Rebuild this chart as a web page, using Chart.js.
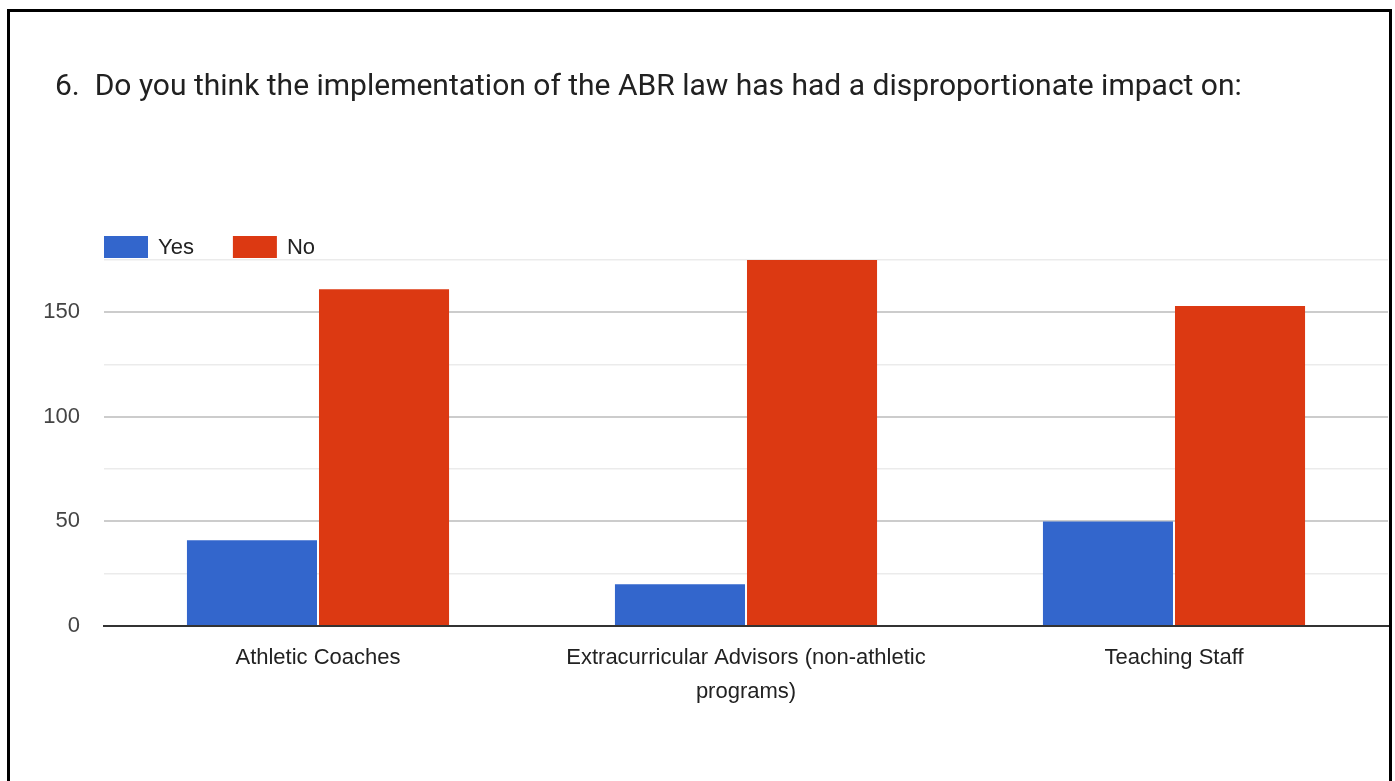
<!DOCTYPE html>
<html>
<head>
<meta charset="utf-8">
<title>ABR law impact</title>
<script src="https://cdn.jsdelivr.net/npm/chart.js@4.4.1/dist/chart.umd.min.js"></script>
<style>
  html, body { margin: 0; padding: 0; background: #fff; }
  #wrap { position: relative; width: 1395px; height: 781px; overflow: hidden; }
  #chart-box { position: absolute; left: 0; top: 0; width: 1395px; height: 781px; }
  #frame { position: absolute; left: 7px; top: 9px; width: 1379px; height: 800px; border: 3px solid #000; pointer-events: none; }
  #title { position: absolute; left: 55px; top: 70px; margin: 0; font: 400 30px/1 Roboto, sans-serif; color: #212121; white-space: pre; }
</style>
</head>
<body>
<div id="wrap">
  <div id="chart-box"><canvas id="chart"></canvas></div>
  <h1 id="title"></h1>
  <div id="frame"></div>
</div>
<script>
// survey question 6 — counts
const titleText = '6.  Do you think the implementation of the ABR law has had a disproportionate impact on:';
const categories = ['Athletic Coaches', ['Extracurricular Advisors (non-athletic', 'programs)'], 'Teaching Staff'];
const yesCounts = [41, 20, 50];
const noCounts = [161, 175, 153];
const labeledTicks = [0, 50, 100, 150];

const BLUE = '#3366cc';
const RED = '#dc3912';

document.getElementById('title').textContent = titleText;
Chart.defaults.font.family = '"Liberation Sans", Arial, sans-serif';

// legend sits flush with the plot's left edge, just above the top gridline
const topLegend = {
  id: 'topLegend',
  afterDraw(chart) {
    const { ctx, chartArea } = chart;
    ctx.save();
    ctx.font = '22px "Liberation Sans", Arial, sans-serif';
    ctx.textBaseline = 'middle';
    let x = chartArea.left;
    const y = chartArea.top - 24;
    chart.data.datasets.forEach(ds => {
      ctx.fillStyle = ds.backgroundColor;
      ctx.fillRect(x, y, 44, 22);
      ctx.fillStyle = '#222';
      ctx.fillText(ds.label, x + 54, y + 12);
      x += 54 + ctx.measureText(ds.label).width + 39;
    });
    ctx.restore();
  }
};

new Chart(document.getElementById('chart'), {
  type: 'bar',
  data: {
    labels: categories,
    datasets: [
      { label: 'Yes', data: yesCounts, backgroundColor: BLUE },
      { label: 'No', data: noCounts, backgroundColor: RED }
    ]
  },
  options: {
    responsive: true,
    maintainAspectRatio: false,
    animation: false,
    layout: { padding: { left: 42, right: 7, top: 260, bottom: 55 } },
    datasets: { bar: { categoryPercentage: 0.617, barPercentage: 0.985 } },
    plugins: {
      legend: { display: false },
      tooltip: { enabled: false },
      title: { display: false }
    },
    scales: {
      x: {
        grid: { display: false, drawTicks: false },
        border: { display: true, color: '#333', width: 2 },
        ticks: { color: '#222', font: { size: 22, lineHeight: 1.55 }, padding: 15, maxRotation: 0, autoSkip: false },
        afterFit: s => { s.height = 100; }
      },
      y: {
        min: 0,
        max: 175,
        border: { display: false },
        grid: {
          drawTicks: false,
          color: c => c.tick.value === 0 ? '#333' : (c.tick.value % 50 === 0 ? '#cccccc' : '#ebebeb'),
          lineWidth: c => c.tick.value % 50 === 0 ? 2 : 1.5
        },
        ticks: {
          stepSize: 25,
          padding: 24,
          color: '#444',
          font: { size: 22 },
          callback: v => labeledTicks.includes(v) ? v : ''
        },
        afterFit: s => { s.width = 62; }
      }
    }
  },
  plugins: [topLegend]
});
</script>
</body>
</html>
